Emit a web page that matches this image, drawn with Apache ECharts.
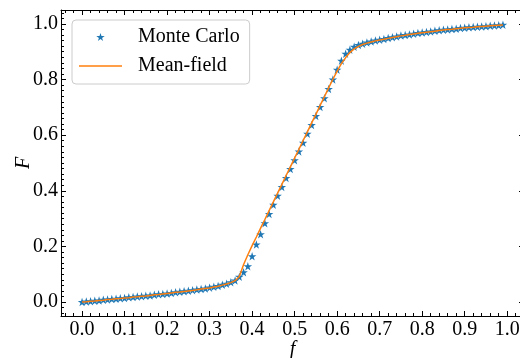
<!DOCTYPE html>
<html>
<head>
<meta charset="utf-8">
<script src="https://cdn.jsdelivr.net/npm/echarts@6/dist/echarts.min.js"></script>
<style>
  html, body { margin: 0; padding: 0; background: #fff; }
  #chart { width: 520px; height: 358px; }
</style>
</head>
<body>
<div id="chart"></div>
<script>
// f grid (0.00 .. 0.99, step 0.01)
const fValues = [
  0.00, 0.01, 0.02, 0.03, 0.04, 0.05, 0.06, 0.07, 0.08, 0.09,
  0.10, 0.11, 0.12, 0.13, 0.14, 0.15, 0.16, 0.17, 0.18, 0.19,
  0.20, 0.21, 0.22, 0.23, 0.24, 0.25, 0.26, 0.27, 0.28, 0.29,
  0.30, 0.31, 0.32, 0.33, 0.34, 0.35, 0.36, 0.37, 0.38, 0.39,
  0.40, 0.41, 0.42, 0.43, 0.44, 0.45, 0.46, 0.47, 0.48, 0.49,
  0.50, 0.51, 0.52, 0.53, 0.54, 0.55, 0.56, 0.57, 0.58, 0.59,
  0.60, 0.61, 0.62, 0.63, 0.64, 0.65, 0.66, 0.67, 0.68, 0.69,
  0.70, 0.71, 0.72, 0.73, 0.74, 0.75, 0.76, 0.77, 0.78, 0.79,
  0.80, 0.81, 0.82, 0.83, 0.84, 0.85, 0.86, 0.87, 0.88, 0.89,
  0.90, 0.91, 0.92, 0.93, 0.94, 0.95, 0.96, 0.97, 0.98, 0.99
];

// Monte Carlo estimates of F
const monteCarlo = [
  0.000, 0.002, 0.003, 0.005, 0.006, 0.008, 0.009, 0.011, 0.012, 0.014,
  0.015, 0.017, 0.018, 0.020, 0.021, 0.023, 0.024, 0.026, 0.028, 0.029,
  0.031, 0.033, 0.035, 0.037, 0.039, 0.041, 0.043, 0.045, 0.047, 0.049,
  0.052, 0.055, 0.058, 0.062, 0.066, 0.071, 0.078, 0.091, 0.107, 0.129,
  0.165, 0.207, 0.244, 0.283, 0.317, 0.350, 0.382, 0.414, 0.446, 0.478,
  0.510, 0.541, 0.573, 0.605, 0.637, 0.669, 0.701, 0.733, 0.766, 0.800,
  0.835, 0.868, 0.893, 0.907, 0.918, 0.924, 0.929, 0.933, 0.937, 0.940,
  0.943, 0.946, 0.949, 0.952, 0.955, 0.958, 0.960, 0.962, 0.965, 0.967,
  0.969, 0.971, 0.973, 0.975, 0.977, 0.979, 0.980, 0.982, 0.983, 0.985,
  0.986, 0.988, 0.989, 0.990, 0.991, 0.992, 0.993, 0.994, 0.995, 0.997
];

// mean-field prediction of F
const meanField = [
  0.000, 0.001, 0.003, 0.004, 0.006, 0.007, 0.009, 0.010, 0.012, 0.013,
  0.015, 0.016, 0.018, 0.019, 0.021, 0.022, 0.024, 0.026, 0.027, 0.029,
  0.031, 0.033, 0.035, 0.036, 0.038, 0.040, 0.042, 0.044, 0.047, 0.049,
  0.051, 0.054, 0.057, 0.061, 0.065, 0.070, 0.077, 0.092, 0.135, 0.170,
  0.203, 0.234, 0.266, 0.297, 0.329, 0.360, 0.392, 0.423, 0.455, 0.486,
  0.518, 0.549, 0.581, 0.612, 0.644, 0.675, 0.707, 0.738, 0.770, 0.801,
  0.830, 0.857, 0.879, 0.897, 0.910, 0.919, 0.926, 0.931, 0.935, 0.939,
  0.942, 0.945, 0.948, 0.951, 0.954, 0.957, 0.959, 0.962, 0.964, 0.966,
  0.968, 0.970, 0.972, 0.974, 0.976, 0.978, 0.980, 0.981, 0.983, 0.984,
  0.986, 0.987, 0.988, 0.990, 0.991, 0.992, 0.993, 0.994, 0.995, 0.996
];

const xTicks = ['0.0', '0.1', '0.2', '0.3', '0.4', '0.5', '0.6', '0.7', '0.8', '0.9', '1.0'];
const yTicks = ['0.0', '0.2', '0.4', '0.6', '0.8', '1.0'];

const STAR = 'path://M0,-100L22.45,-30.9L95.1,-30.9L36.3,11.8L58.8,80.9L0,38.2L-58.8,80.9L-36.3,11.8L-95.1,-30.9L-22.45,-30.9Z';
const DASH = 'path://M0,0L86,0L86,3L0,3Z';
const FONT = '"Liberation Serif", "DejaVu Serif", serif';

const chart = echarts.init(document.getElementById('chart'), null, { renderer: 'canvas' });

// only label the round tick values, blank the frame edges
function tickLabel(list) {
  return function (v) {
    const s = (Math.round(v * 100) / 100).toFixed(1);
    if (Math.abs(parseFloat(s) - v) > 1e-6) return '';
    return list.indexOf(s) >= 0 ? s : '';
  };
}

const frameAxis = {
  axisLine: { show: true, onZero: false, lineStyle: { color: '#000', width: 1 } },
  axisTick: { show: true, inside: true, length: 5, lineStyle: { color: '#000', width: 1 } },
  minorTick: { show: true, length: 3, lineStyle: { color: '#000', width: 1 } },
  splitLine: { show: false },
  minorSplitLine: { show: false }
};

// no interval: let the scale pick nice 0.1 / 0.2 steps inside the padded range
const xBase = { type: 'value', min: -0.0495, max: 1.0395, splitNumber: 10 };
const yBase = { type: 'value', min: -0.05, max: 1.05, splitNumber: 5 };

chart.setOption({
  animation: false,
  backgroundColor: '#fff',
  grid: { left: 61, right: -4, top: 10, bottom: 42, containLabel: false, outerBoundsMode: 'none' },
  xAxis: [
    Object.assign({}, xBase, frameAxis, {
      position: 'bottom',
      minorTick: Object.assign({}, frameAxis.minorTick, { splitNumber: 5 }),
      axisLabel: {
        margin: 4, color: '#000', fontFamily: FONT, fontSize: 20,
        formatter: tickLabel(xTicks)
      },
      name: 'f', nameLocation: 'middle', nameGap: 24, nameMoveOverlap: false,
      nameTextStyle: { fontFamily: FONT, fontStyle: 'italic', fontSize: 20, color: '#000' }
    }),
    Object.assign({}, xBase, frameAxis, {
      position: 'top',
      minorTick: Object.assign({}, frameAxis.minorTick, { splitNumber: 5 }),
      axisLabel: { show: false }
    })
  ],
  yAxis: [
    Object.assign({}, yBase, frameAxis, {
      position: 'left',
      minorTick: Object.assign({}, frameAxis.minorTick, { splitNumber: 10 }),
      axisLabel: {
        margin: 3, color: '#000', fontFamily: FONT, fontSize: 20,
        formatter: tickLabel(yTicks)
      },
      name: 'F', nameLocation: 'middle', nameGap: 27, nameRotate: 90, nameMoveOverlap: false,
      nameTextStyle: { fontFamily: FONT, fontStyle: 'italic', fontSize: 20, color: '#000' }
    }),
    Object.assign({}, yBase, frameAxis, {
      position: 'right',
      minorTick: Object.assign({}, frameAxis.minorTick, { splitNumber: 10 }),
      axisLabel: { show: false }
    })
  ],
  legend: {
    orient: 'vertical',
    left: 72, top: 20,
    padding: [7, 10, 8, 7],
    itemGap: 9,
    itemWidth: 43,
    itemHeight: 8,
    backgroundColor: 'rgba(255,255,255,0.8)',
    borderColor: '#cccccc',
    borderWidth: 1,
    borderRadius: 4,
    textStyle: { fontFamily: FONT, fontSize: 20, color: '#000', padding: [0, 0, 0, 11] },
    data: [{ name: 'Monte Carlo', icon: STAR }, { name: 'Mean-field', icon: DASH }]
  },
  series: [
    {
      name: 'Monte Carlo',
      type: 'scatter',
      symbol: STAR,
      symbolSize: 8.5,
      itemStyle: { color: '#1f77b4', opacity: 1 },
      data: fValues.map((f, i) => [f, monteCarlo[i]]),
      z: 2
    },
    {
      name: 'Mean-field',
      type: 'line',
      showSymbol: false,
      symbol: 'none',
      lineStyle: { color: '#ff7f0e', width: 1.5 },
      itemStyle: { color: '#ff7f0e' },
      data: fValues.map((f, i) => [f, meanField[i]]),
      z: 3
    }
  ]
});
</script>
</body>
</html>
